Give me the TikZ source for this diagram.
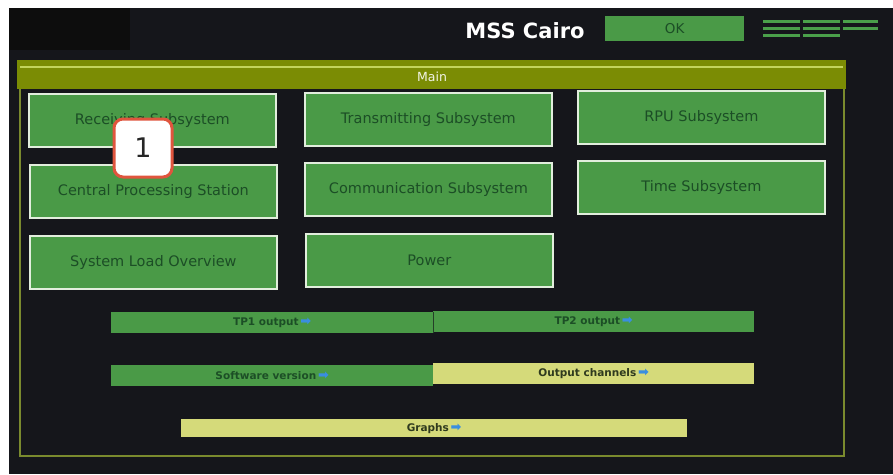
\documentclass[tikz,border=0pt]{standalone}
\usepackage{fontspec}
\setmainfont{DejaVu Sans}
\usetikzlibrary{positioning}
\definecolor{bgdark}{HTML}{15161B}
\definecolor{btngreen}{HTML}{4A9A47}
\definecolor{btnedge}{HTML}{E2EEDD}
\definecolor{btntext}{HTML}{1C4E26}
\definecolor{olive}{HTML}{7B8C04}
\definecolor{olivelight}{HTML}{C3D45C}
\definecolor{frameline}{HTML}{7A8A2E}
\definecolor{baryellow}{HTML}{D5DA7A}
\definecolor{bartextdark}{HTML}{2F3A1E}
\definecolor{arrowblue}{HTML}{3A8EE0}
\definecolor{markred}{HTML}{E0553E}
\definecolor{linegreen}{HTML}{4AA04A}
\tikzset{
  btnbox/.style={draw=btnedge, line width=1.8pt, fill=btngreen, text=btntext,
    font=\fontsize{14.5}{16}\selectfont, minimum width=247pt, minimum height=53pt,
    inner sep=0pt, anchor=north west},
  barbox/.style={fill=btngreen, text=btntext, font=\bfseries\fontsize{10.5}{12}\selectfont,
    minimum height=21pt, inner sep=0pt, anchor=north west},
  ybarbox/.style={barbox, fill=baryellow, text=bartextdark},
  menuline/.style={linegreen, line width=3pt},
}
\newcommand{\goarrow}{\,{\color{arrowblue}\normalfont\bfseries\fontsize{13}{13}\selectfont ➡}}
\begin{document}
\begin{tikzpicture}[x=1pt,y=-1pt]
\useasboundingbox (0,0) rectangle (893,474);
\fill[white] (0,0) rectangle (893,474);
\fill[bgdark] (9,8) rectangle (893,474);
\fill[black!95] (9,8) rectangle (130,50);
% title
\node[text=white, font=\bfseries\fontsize{21}{24}\selectfont, inner sep=0pt] (title) at (525,31) {MSS Cairo};
\node[fill=btngreen, text=btntext, font=\fontsize{13.5}{15}\selectfont, minimum width=139pt, minimum height=25pt, inner sep=0pt, anchor=north west] (ok) at (605,16) {OK};
% menu lines
\draw[menuline] (763,21) -- (800,21) (803,21) -- (840,21) (843,21) -- (878,21);
\draw[menuline] (763,28) -- (800,28) (803,28) -- (840,28) (843,28) -- (878,28);
\draw[menuline] (763,35) -- (800,35) (803,35) -- (840,35);
% frame
\draw[frameline, line width=1.3pt] (20,88) -- (20,456) -- (844,456) -- (844,88);
% header
\node[fill=olive, minimum width=829pt, minimum height=29pt, inner sep=0pt, anchor=north west] (header) at (17,60) {};
\draw[olivelight, line width=2pt] (20,67) -- (843,67);
\node[text=white!90!olive, font=\fontsize{12.5}{14}\selectfont] (main) at (432,77) {Main};
% buttons
\node[btnbox] (recv) at (28,93) {Receiving Subsystem};
\node[btnbox] (trans) at (304,92) {Transmitting Subsystem};
\node[btnbox] (rpu) at (577,90) {RPU Subsystem};
\node[btnbox] (cps) at (29,164) {Central Processing Station};
\node[btnbox] (comm) at (304,162) {Communication Subsystem};
\node[btnbox] (time) at (577,160) {Time Subsystem};
\node[btnbox] (sload) at (29,235) {System Load Overview};
\node[btnbox] (power) at (305,233) {Power};
% marker
\node[draw=markred, line width=3pt, fill=white, rounded corners=9pt, minimum width=58pt, minimum height=58pt, font=\fontsize{27}{30}\selectfont, text=black!85] (mark) at (143,148) {1};
% bars
\node[barbox, minimum width=322pt] (tp1) at (111,312) {TP1 output\goarrow};
\node[barbox, minimum width=321pt] (tp2) at (433,311) {TP2 output\goarrow};
\draw[bgdark!70!btngreen, line width=1pt] (tp1.north east) -- (tp1.south east);
\node[barbox, minimum width=322pt] (soft) at (111,365) {Software version\goarrow};
\node[ybarbox, minimum width=321pt] (outch) at (433,363) {Output channels\goarrow};
\node[ybarbox, minimum width=506pt, minimum height=18pt] (graphs) at (181,419) {Graphs\goarrow};
\end{tikzpicture}
\end{document}
